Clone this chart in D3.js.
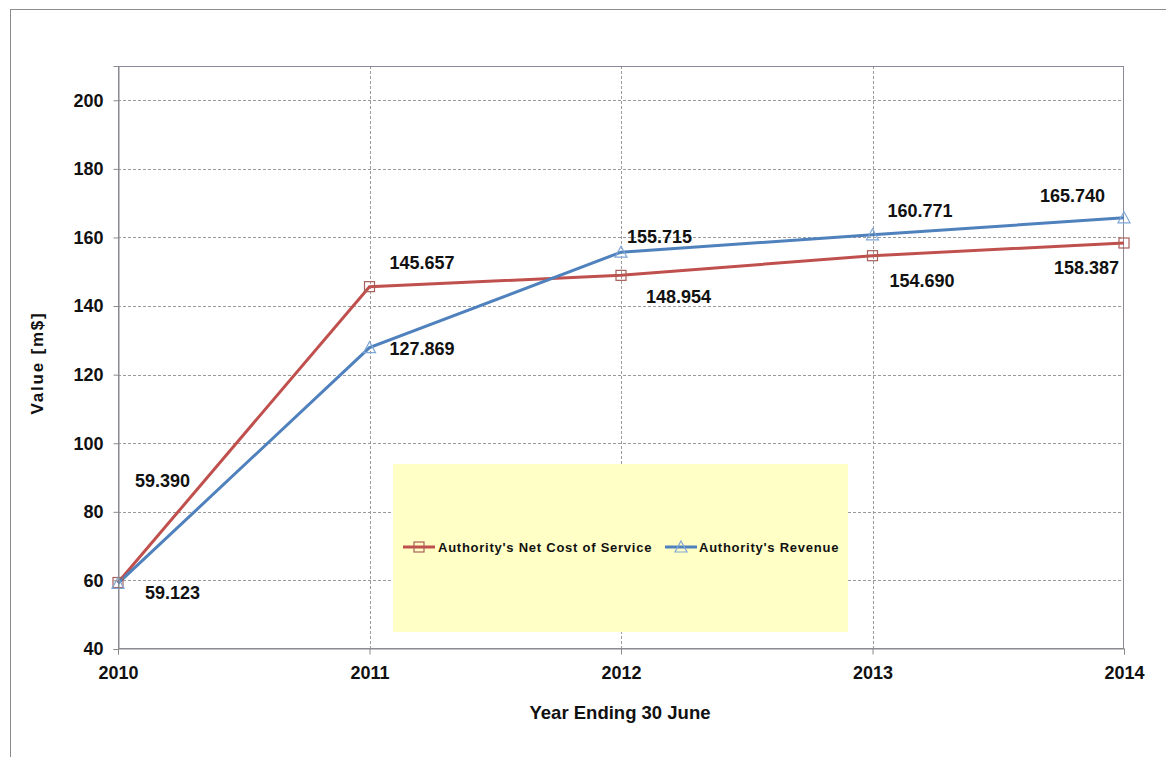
<!DOCTYPE html>
<html>
<head>
<meta charset="utf-8">
<script src="https://cdn.jsdelivr.net/npm/d3@7"></script>
<style>
  html, body { margin: 0; padding: 0; background: #fff; }
  svg { display: block; font-family: "Liberation Sans", Arial, sans-serif; }
</style>
</head>
<body>
<svg id="chart" width="1166" height="757"></svg>
<script>
// Fiscal years and series values (m$)
const years = [2010, 2011, 2012, 2013, 2014];
const netCost = [59.390, 145.657, 148.954, 154.690, 158.387];
const revenue = [59.123, 127.869, 155.715, 160.771, 165.740];
const yTicks = [40, 60, 80, 100, 120, 140, 160, 180, 200];
const seriesNames = ["Authority's Net Cost of Service", "Authority's Revenue"];

const svg = d3.select("#chart");
const W = 1166, H = 757;
const m = { left: 118, top: 66, right: W - 1124, bottom: H - 649 };
const pw = W - m.left - m.right, ph = H - m.top - m.bottom;

// outer chart frame
svg.append("rect").attr("x", 10.5).attr("y", 9.5).attr("width", W + 20).attr("height", H + 20)
  .attr("fill", "#fff").attr("stroke", "#8c8c8c").attr("stroke-width", 1);

const x = d3.scaleLinear().domain([2010, 2014]).range([m.left, m.left + pw]);
const y = d3.scaleLinear().domain([40, 210]).range([m.top + ph, m.top]);

const g = svg.append("g");

// plot area background
g.append("rect").attr("x", m.left).attr("y", m.top).attr("width", pw).attr("height", ph).attr("fill", "#fff");

// dashed grid
g.append("g").selectAll("line").data(yTicks.filter(v => v > 40)).join("line")
  .attr("x1", m.left).attr("x2", m.left + pw)
  .attr("y1", d => Math.round(y(d)) + 0.5).attr("y2", d => Math.round(y(d)) + 0.5)
  .attr("stroke", "#9a9a9a").attr("stroke-dasharray", "3,2").attr("stroke-width", 1);
g.append("g").selectAll("line").data(years.slice(1, -1)).join("line")
  .attr("x1", d => Math.round(x(d)) + 0.5).attr("x2", d => Math.round(x(d)) + 0.5)
  .attr("y1", m.top).attr("y2", m.top + ph)
  .attr("stroke", "#9a9a9a").attr("stroke-dasharray", "3,2").attr("stroke-width", 1);

// plot border
g.append("rect").attr("x", m.left + 0.5).attr("y", m.top + 0.5).attr("width", pw - 1).attr("height", ph - 1)
  .attr("fill", "none").attr("stroke", "#8a8a9a").attr("stroke-width", 1);

// axes
const yAxis = d3.axisLeft(y).tickValues(yTicks).tickSize(5).tickPadding(10).tickFormat(d3.format("d"));
const xAxis = d3.axisBottom(x).tickValues(years).tickSize(6).tickPadding(12).tickFormat(d3.format("d"));

const ya = svg.append("g").attr("transform", `translate(${m.left + 0.5},0)`).call(yAxis);
const xa = svg.append("g").attr("transform", `translate(0,${m.top + ph - 0.5})`).call(xAxis);
[ya, xa].forEach(a => {
  a.select(".domain").attr("stroke", "#8a8a8a");
  a.selectAll(".tick line").attr("stroke", "#8a8a8a");
  a.selectAll(".tick text").attr("fill", "#111").attr("font-size", 18).attr("font-weight", "bold")
    .attr("font-family", "'Liberation Sans', Arial, sans-serif");
});

// axis titles
svg.append("text").attr("x", 620).attr("y", 719)
  .attr("text-anchor", "middle").attr("font-size", 18.5).attr("font-weight", "bold").attr("fill", "#111")
  .text("Year Ending 30 June");
svg.append("text").attr("transform", `translate(43,363) rotate(-90)`)
  .attr("text-anchor", "middle").attr("font-size", 17).attr("font-weight", "bold")
  .attr("letter-spacing", 1.8).attr("fill", "#111")
  .text("Value [m$]");

// legend box
const lg = svg.append("g");
lg.append("rect").attr("x", 393).attr("y", 464).attr("width", 455).attr("height", 168).attr("fill", "#ffffc6");

// series lines
const line = d3.line().x((d, i) => x(years[i])).y(d => y(d));
const redC = "#c0504d", blueC = "#4f81bd";
g.append("path").datum(netCost).attr("d", line).attr("fill", "none").attr("stroke", redC).attr("stroke-width", 3);
g.append("path").datum(revenue).attr("d", line).attr("fill", "none").attr("stroke", blueC).attr("stroke-width", 3);

// markers
const sq = 10;
function square(sel, cx, cy) {
  sel.append("rect").attr("x", cx - sq / 2).attr("y", cy - sq / 2).attr("width", sq).attr("height", sq)
    .attr("fill", "none").attr("stroke", "#a9605a").attr("stroke-width", 1.2);
}
function tri(sel, cx, cy) {
  sel.append("path").attr("d", `M${cx},${cy - 6}L${cx + 6},${cy + 5}L${cx - 6},${cy + 5}Z`)
    .attr("fill", "none").attr("stroke", "#7fa6d6").attr("stroke-width", 1.2);
}
netCost.forEach((v, i) => square(g, x(years[i]), y(v)));
revenue.forEach((v, i) => tri(g, x(years[i]), y(v)));

// value labels, placed relative to their points
const fmt = d3.format(".3f");
const netOff = [[17, -102], [20, -24], [25, 21], [17, 25], [-70, 25]];
const revOff = [[27, 9], [20, 1], [6, -16], [15, -24], [-84, -22]];
function labels(vals, offs) {
  svg.append("g").selectAll("text").data(vals).join("text")
    .attr("x", (d, i) => x(years[i]) + offs[i][0])
    .attr("y", (d, i) => y(d) + offs[i][1])
    .attr("dy", "0.36em")
    .attr("font-size", 18).attr("font-weight", "bold").attr("fill", "#111")
    .text(d => fmt(d));
}
labels(netCost, netOff);
labels(revenue, revOff);

// legend entries
const ly = 547;
lg.append("line").attr("x1", 403).attr("x2", 435).attr("y1", ly).attr("y2", ly).attr("stroke", redC).attr("stroke-width", 3);
square(lg, 419, ly);
lg.append("text").attr("x", 438).attr("y", ly + 5).attr("font-size", 13).attr("font-weight", "bold")
  .attr("letter-spacing", 0.75).attr("fill", "#111").text(seriesNames[0]);
lg.append("line").attr("x1", 665).attr("x2", 697).attr("y1", ly).attr("y2", ly).attr("stroke", blueC).attr("stroke-width", 3);
tri(lg, 681, ly);
lg.append("text").attr("x", 699).attr("y", ly + 5).attr("font-size", 13).attr("font-weight", "bold")
  .attr("letter-spacing", 0.75).attr("fill", "#111").text(seriesNames[1]);
</script>
</body>
</html>
